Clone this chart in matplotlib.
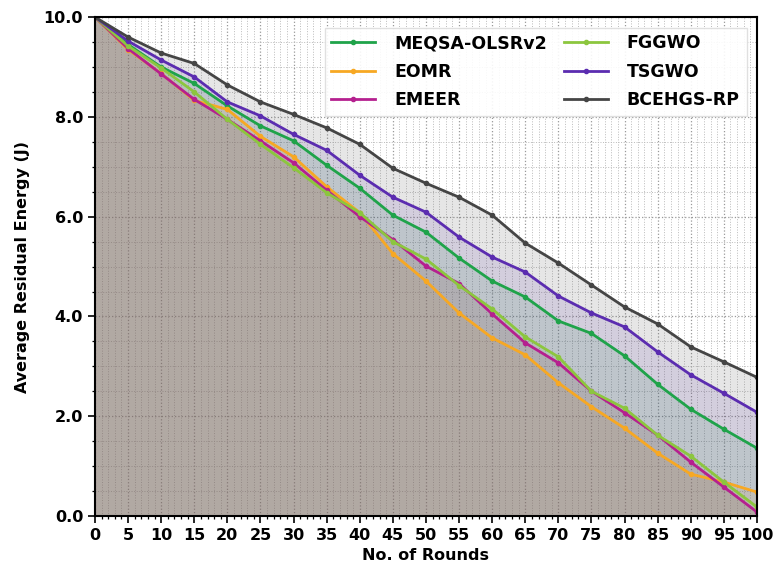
import matplotlib
matplotlib.use("Agg")
import matplotlib.pyplot as plt
from matplotlib.ticker import MultipleLocator, FormatStrFormatter

rounds = [0, 5, 10, 15, 20, 25, 30, 35, 40, 45, 50, 55, 60, 65, 70, 75, 80, 85, 90, 95, 100]

meqsa = [10.0, 9.45, 9.0, 8.67, 8.22, 7.82, 7.52, 7.03, 6.57, 6.03, 5.69, 5.17, 4.71, 4.39, 3.91, 3.66, 3.21, 2.64, 2.14, 1.74, 1.36]
eomr = [10.0, 9.35, 8.87, 8.33, 8.15, 7.61, 7.2, 6.6, 6.08, 5.26, 4.71, 4.07, 3.57, 3.23, 2.67, 2.19, 1.76, 1.26, 0.84, 0.68, 0.48]
emeer = [10.0, 9.37, 8.86, 8.35, 7.95, 7.52, 7.08, 6.53, 6.0, 5.54, 5.01, 4.66, 4.05, 3.47, 3.07, 2.5, 2.07, 1.62, 1.08, 0.58, 0.08]
fggwo = [10.0, 9.42, 8.98, 8.5, 7.95, 7.45, 6.98, 6.48, 6.08, 5.5, 5.15, 4.62, 4.15, 3.59, 3.19, 2.5, 2.16, 1.62, 1.2, 0.68, 0.18]
tsgwo = [10.0, 9.52, 9.14, 8.8, 8.3, 8.02, 7.65, 7.33, 6.83, 6.39, 6.09, 5.59, 5.19, 4.89, 4.41, 4.07, 3.79, 3.29, 2.83, 2.46, 2.08]
bcehgs = [10.0, 9.6, 9.28, 9.07, 8.64, 8.3, 8.05, 7.78, 7.45, 6.97, 6.67, 6.39, 6.03, 5.47, 5.07, 4.63, 4.19, 3.85, 3.39, 3.09, 2.78]

names = ["MEQSA-OLSRv2", "EOMR", "EMEER", "FGGWO", "TSGWO", "BCEHGS-RP"]
series = [meqsa, eomr, emeer, fggwo, tsgwo, bcehgs]
colors = ["#1fa34a", "#f7a823", "#b5208f", "#8cc63e", "#5b2cb0", "#454545"]

fig = plt.figure(figsize=(7.74, 5.70), dpi=100)
ax = fig.add_axes([0.1227, 0.0947, 0.8553, 0.8753])

for name, vals, c in zip(names, series, colors):
    ax.fill_between(rounds, vals, 0, color=c, alpha=0.13, linewidth=0)
    ax.plot(rounds, vals, color=c, linewidth=2, marker='o', markersize=3, label=name)

ax.set_xlim(0, 100)
ax.set_ylim(0, 10)
ax.xaxis.set_major_locator(MultipleLocator(5))
ax.xaxis.set_minor_locator(MultipleLocator(1))
ax.yaxis.set_major_locator(MultipleLocator(2))
ax.yaxis.set_minor_locator(MultipleLocator(0.5))
ax.yaxis.set_major_formatter(FormatStrFormatter('%.1f'))
ax.grid(which='major', linestyle=':', color='#999999', linewidth=0.9)
ax.grid(which='minor', linestyle=':', color='#bbbbbb', linewidth=0.7)
ax.set_axisbelow(True)

for lab in ax.get_xticklabels() + ax.get_yticklabels():
    lab.set_fontweight('bold')
ax.tick_params(axis='both', which='major', labelsize=11.5, length=5, width=1.2)
ax.tick_params(axis='both', which='minor', length=2.5, width=0.9)
for s in ax.spines.values():
    s.set_linewidth(1.5)

ax.set_xlabel("No. of Rounds", fontsize=11.5, fontweight='bold')
ax.set_ylabel("Average Residual Energy (J)", fontsize=11.5, fontweight='bold', labelpad=10)

leg = ax.legend(loc='upper right', ncol=2, prop={'weight': 'bold', 'size': 12.5},
                frameon=True, fancybox=False, framealpha=0.9, columnspacing=1.0,
                handlelength=2.5, handletextpad=1.1, labelspacing=0.6, borderaxespad=0.6)
leg.get_frame().set_edgecolor('#dddddd')

fig.savefig("out.png", dpi=100)
